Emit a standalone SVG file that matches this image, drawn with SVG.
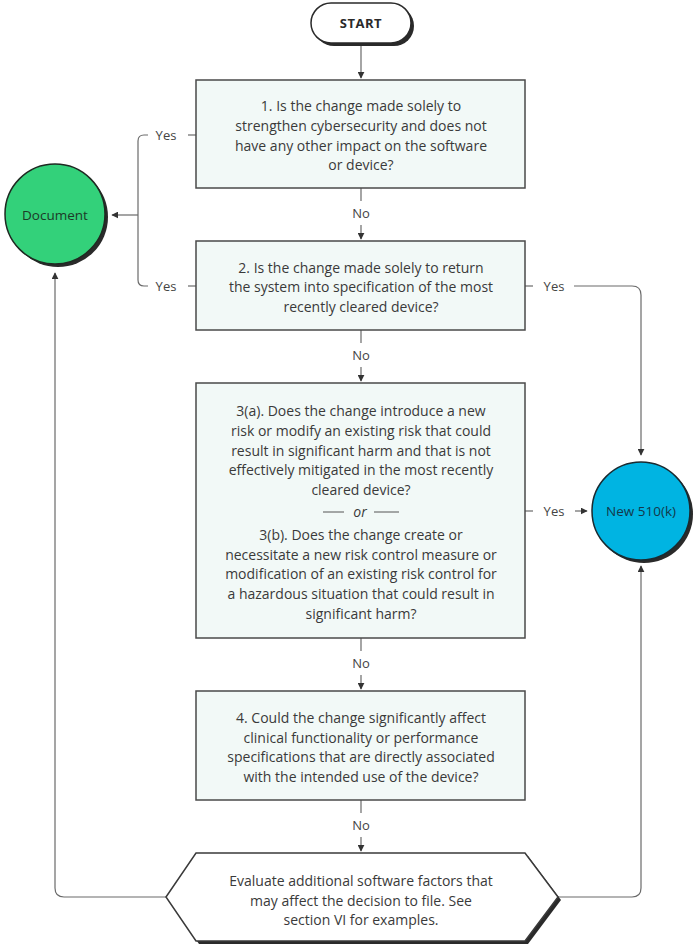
<svg xmlns="http://www.w3.org/2000/svg" width="700" height="947" viewBox="0 0 700 947">
<style>
.t{font-family:"Open Sans","Liberation Sans",sans-serif;font-size:14px;fill:#3a3a3a;text-anchor:middle;dominant-baseline:central}
.lbl{font-family:"Open Sans","Liberation Sans",sans-serif;font-size:13px;fill:#444;text-anchor:middle;dominant-baseline:central}
.box{fill:#f2f9f7;stroke:#4a4a4a;stroke-width:1.5}
.sh{fill:#2a2a2a}
.c{fill:none;stroke:#6a6a6a;stroke-width:1.2}
</style>
<defs>
<marker id="ah" viewBox="0 0 10 10" refX="9" refY="5" markerWidth="7" markerHeight="7" markerUnits="userSpaceOnUse" orient="auto">
<path d="M0,0 L10,5 L0,10 z" fill="#333"/>
</marker>
</defs>
<rect width="700" height="947" fill="#fff"/>

<g id="connectors">
<path class="c" d="M361,45 V78" marker-end="url(#ah)"/>
<path class="c" d="M361,188 V201"/>
<text class="lbl" x="361" y="213">No</text>
<path class="c" d="M361,225 V239" marker-end="url(#ah)"/>
<path class="c" d="M361,330 V343"/>
<text class="lbl" x="361" y="355">No</text>
<path class="c" d="M361,367 V381" marker-end="url(#ah)"/>
<path class="c" d="M361,638 V651"/>
<text class="lbl" x="361" y="663">No</text>
<path class="c" d="M361,675 V689" marker-end="url(#ah)"/>
<path class="c" d="M361,800 V813"/>
<text class="lbl" x="361" y="825">No</text>
<path class="c" d="M361,837 V851" marker-end="url(#ah)"/>

<path class="c" d="M196,135 H188"/>
<text class="lbl" x="166" y="135">Yes</text>
<path class="c" d="M148,135 H144 Q138,135 138,141 V280 Q138,286 144,286 H148"/>
<text class="lbl" x="166" y="286">Yes</text>
<path class="c" d="M188,286 H196"/>
<path class="c" d="M138,215 H112" marker-end="url(#ah)"/>

<path class="c" d="M525,286 H533"/>
<text class="lbl" x="554" y="286">Yes</text>
<path class="c" d="M574,286 H632 Q641,286 641,295 V455" marker-end="url(#ah)"/>

<path class="c" d="M525,511 H533"/>
<text class="lbl" x="554" y="511">Yes</text>
<path class="c" d="M575,511 H587" marker-end="url(#ah)"/>

<path class="c" d="M166,897 H64 Q55,897 55,888 V273" marker-end="url(#ah)"/>
<path class="c" d="M558,897 H632 Q641,897 641,888 V566" marker-end="url(#ah)"/>
</g>

<g id="start">
<rect class="sh" x="314" y="6" width="100" height="40" rx="20"/>
<rect x="311" y="3" width="100" height="40" rx="20" fill="#fff" stroke="#2a2a2a" stroke-width="1.5"/>
<text class="t" x="361" y="23" style="font-weight:bold;fill:#2a2a2a;letter-spacing:0.5px;font-size:13px">START</text>
</g>

<g id="q1">
<rect class="box" x="196" y="80" width="329" height="108"/>
<text class="t" x="361" y="105">1. Is the change made solely to</text>
<text class="t" x="361" y="125">strengthen cybersecurity and does not</text>
<text class="t" x="361" y="145">have any other impact on the software</text>
<text class="t" x="361" y="164">or device?</text>
</g>

<g id="q2">
<rect class="box" x="196" y="241" width="329" height="89"/>
<text class="t" x="361" y="267">2. Is the change made solely to return</text>
<text class="t" x="361" y="286">the system into specification of the most</text>
<text class="t" x="361" y="306">recently cleared device?</text>
</g>

<g id="q3">
<rect class="box" x="196" y="383" width="329" height="255"/>
<text class="t" x="361" y="410">3(a). Does the change introduce a new</text>
<text class="t" x="361" y="430">risk or modify an existing risk that could</text>
<text class="t" x="361" y="450">result in significant harm and that is not</text>
<text class="t" x="361" y="469.5">effectively mitigated in the most recently</text>
<text class="t" x="361" y="489">cleared device?</text>
<path d="M323,512 H344 M374,512 H399" stroke="#555" stroke-width="1"/>
<text class="t" x="360" y="511" style="font-style:italic">or</text>
<text class="t" x="361" y="534">3(b). Does the change create or</text>
<text class="t" x="361" y="554">necessitate a new risk control measure or</text>
<text class="t" x="361" y="573.5">modification of an existing risk control for</text>
<text class="t" x="361" y="593">a hazardous situation that could result in</text>
<text class="t" x="361" y="613">significant harm?</text>
</g>

<g id="q4">
<rect class="box" x="196" y="691" width="329" height="109"/>
<text class="t" x="361" y="717">4. Could the change significantly affect</text>
<text class="t" x="361" y="737">clinical functionality or performance</text>
<text class="t" x="361" y="756">specifications that are directly associated</text>
<text class="t" x="361" y="776">with the intended use of the device?</text>
</g>

<g id="evaluate">
<polygon class="sh" points="169,900 199,856 528,856 561,900 528,944 199,944"/>
<polygon points="166,897 196,853 525,853 558,897 525,941 196,941" fill="#fff" stroke="#3a3a3a" stroke-width="1.5"/>
<text class="t" x="361" y="880">Evaluate additional software factors that</text>
<text class="t" x="361" y="900">may affect the decision to file. See</text>
<text class="t" x="361" y="919.5">section VI for examples.</text>
</g>

<g id="document">
<circle class="sh" cx="58" cy="217" r="50"/>
<circle cx="55" cy="214" r="50" fill="#33d17a" stroke="#1f2a22" stroke-width="1.5"/>
<text class="t" x="55" y="215" style="fill:#1d3a28;font-size:13.5px">Document</text>
</g>

<g id="new510k">
<circle class="sh" cx="644" cy="514" r="49"/>
<circle cx="641" cy="511" r="49" fill="#00b4e2" stroke="#1a2a30" stroke-width="1.5"/>
<text class="t" x="641" y="511" style="fill:#14384a;font-size:13.5px">New 510(k)</text>
</g>
</svg>
